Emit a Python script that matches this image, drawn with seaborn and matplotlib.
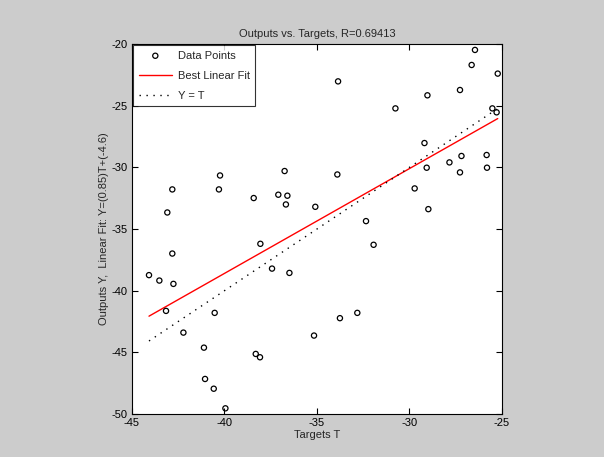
import numpy as np
import pandas as pd
import matplotlib
matplotlib.use("Agg")
import matplotlib.pyplot as plt
import seaborn as sns

# targets (T) and network outputs (Y)
targets = [-43.09, -42.82, -44.08, -43.52, -42.76, -43.16, -42.22, -40.53, -41.11, -41.05,
           -40.58, -39.95, -38.31, -38.08, -38.06, -37.43, -36.49, -35.16, -36.68, -35.09,
           -42.82, -40.24, -40.30, -38.42, -37.09, -36.60, -36.75, -33.86, -30.76, -29.03,
           -27.27, -26.64, -26.46, -25.23, -25.52, -25.29, -29.19, -27.19, -25.83, -27.84,
           -29.07, -27.27, -25.81, -29.72, -33.90, -28.98, -32.35, -31.94, -32.82, -33.76]
outputs = [-33.66, -36.99, -38.74, -39.18, -39.45, -41.64, -43.40, -41.80, -44.62, -47.16,
           -47.95, -49.54, -45.13, -45.40, -36.20, -38.21, -38.56, -43.64, -33.01, -33.20,
           -31.79, -30.66, -31.79, -32.49, -32.22, -32.30, -30.30, -23.03, -25.22, -24.16,
           -23.73, -21.70, -20.48, -22.40, -25.22, -25.54, -28.03, -29.08, -29.00, -29.60,
           -30.03, -30.41, -30.03, -31.71, -30.58, -33.39, -34.36, -36.28, -41.80, -42.23]

# fit shown in the axis label
slope = 0.85
intercept = -4.6
r_value = 0.69413

xticks = [-45, -40, -35, -30, -25]
yticks = [-50, -45, -40, -35, -30, -25, -20]

sns.set_style("ticks")
plt.rcParams['font.family'] = ['Liberation Sans', 'DejaVu Sans']
plt.rcParams['font.size'] = 8
plt.rcParams['axes.unicode_minus'] = False

df = pd.DataFrame({"T": targets, "Y": outputs})
tt = np.array([min(targets), max(targets)])
lines = pd.DataFrame({"T": tt, "fit": slope * tt + intercept, "ident": tt})

fig = plt.figure(figsize=(6.04, 4.57), dpi=100, facecolor="#cccccc")
ax = fig.add_axes([0.2185, 0.0941, 0.6126, 0.8096])
ax.set_facecolor("white")

sns.scatterplot(data=df, x="T", y="Y", ax=ax, marker="o", s=14,
                facecolor="none", edgecolor="black", linewidth=0.9,
                label="Data Points", zorder=3)
sns.lineplot(data=lines, x="T", y="fit", ax=ax, color="red", linewidth=1.0,
             label="Best Linear Fit", zorder=2)
sns.lineplot(data=lines, x="T", y="ident", ax=ax, color="black", linewidth=1.0,
             linestyle=(0, (1, 4)), label="Y = T", zorder=2)

ax.set_xlim(-45, -25)
ax.set_ylim(-50, -20)
ax.set_xticks(xticks)
ax.set_yticks(yticks)
ax.tick_params(direction="in", length=4, width=0.8, top=True, right=True,
               labelsize=8, colors="black", pad=3)
for sp in ax.spines.values():
    sp.set_visible(True)
    sp.set_color("black")
    sp.set_linewidth(0.8)

ax.set_title(f"Outputs vs. Targets, R={r_value}", fontsize=8, pad=5)
ax.set_xlabel("Targets T", fontsize=8, labelpad=1)
ax.set_ylabel(f"Outputs Y,  Linear Fit: Y=({slope})T+({intercept})", fontsize=8, labelpad=2)

leg = ax.legend(loc="upper left", fancybox=False, frameon=True, edgecolor="black",
                fontsize=8, borderaxespad=0.1, handlelength=3.0, labelspacing=0.9,
                borderpad=0.5, handletextpad=0.5)
leg.get_frame().set_linewidth(0.8)

fig.savefig("out.png", dpi=100, facecolor=fig.get_facecolor())
